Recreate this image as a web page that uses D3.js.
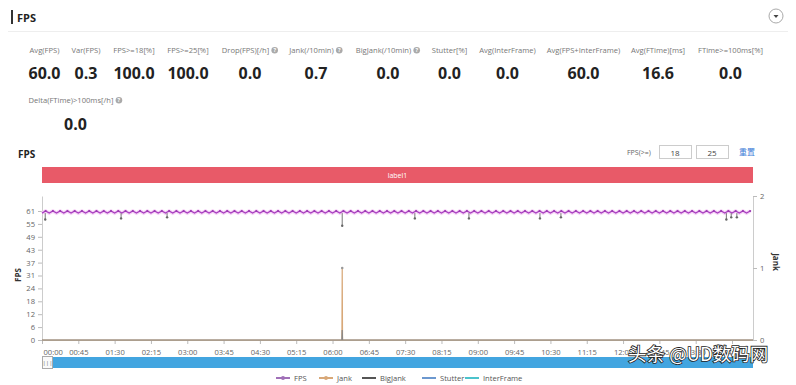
<!DOCTYPE html>
<html>
<head>
<meta charset="utf-8">
<script src="https://cdn.jsdelivr.net/npm/d3@7"></script>
<style>
  body { margin: 0; background: #fff; }
  svg { display: block; font-family: "Open Sans", "Noto Sans CJK SC", sans-serif; }
</style>
</head>
<body>
<script>
"use strict"

// summary metrics
const metricLabels = ['Avg(FPS)', 'Var(FPS)', 'FPS>=18[%]', 'FPS>=25[%]', 'Drop(FPS)[/h]', 'Jank(/10min)',
  'BigJank(/10min)', 'Stutter[%]', 'Avg(InterFrame)', 'Avg(FPS+InterFrame)', 'Avg(FTime)[ms]', 'FTime>=100ms[%]']
const metricValues = ['60.0', '0.3', '100.0', '100.0', '0.0', '0.7', '0.0', '0.0', '0.0', '60.0', '16.6', '0.0']
const metricHelp = [false, false, false, false, true, true, true, false, false, false, false, false]
const extraLabel = 'Delta(FTime)>100ms[/h]'
const extraValue = '0.0'

// FPS samples, one every 4.5 s
const fpsStep = 4.5
const fps = [
  60,61,60,61,60,61,60,61,60,61,60,61,60,61,
  60,61,60,61,60,61,60,61,60,61,60,61,60,61,
  60,61,60,61,60,61,60,61,60,61,60,61,60,61,
  60,61,60,61,60,61,60,61,60,61,60,61,60,61,
  60,61,60,61,60,61,60,61,60,61,60,61,60,61,
  60,61,60,61,60,61,60,61,60,61,60,61,60,61,
  60,61,60,61,60,61,60,61,60,61,60,61,60,61,
  60,61,60,61,60,61,60,61,60,61,60,61,60,61,
  60,61,60,61,60,61,60,61,60,61,60,61,60,61,
  60,61,60,61,60,61,60,61,60,61,60,61,60,61,
  60,61,60,61,60,61,60,61,60,61,60,61,60,61,
  60,61,60,61,60,61,60,61,60,61,60,61,60,61,
  60,61,60,61,60,61,60,61,60,61,60,61,60,61,
  60,61,60,61,60,61,60,61,60,61,60,61,60,61
]

// short frame drops (seconds, lowest FPS)
const dropTimes = [4, 98, 155, 372, 462, 529, 617, 643, 848, 854, 861]
const dropValues = [57, 57.5, 58, 54, 57.5, 57.5, 57.5, 58, 57, 58, 58]

// jank series (seconds, count)
const jankTimes = [0, 371.6, 372, 372.4, 881]
const jankValues = [0, 0, 1, 0, 0]
const bigJankValues = [0, 0, 0.14, 0, 0]

const fpsTicks = d3.range(0, 11).map(i => i * 6.1)
const jankTicks = [0, 1, 2]
const timeTicks = d3.range(0, 856, 45)
const durationSec = 881

const legendNames = ['FPS', 'Jank', 'BigJank', 'Stutter', 'InterFrame']
const legendColors = ['#a070b8', '#d8a878', '#555555', '#6c98cf', '#4cc3cc']

const W = 796, H = 385
const L = 42, R = 753, T = 196, B = 340

const svg = d3.select('body').append('svg')
  .attr('width', W)
  .attr('height', H)

// header
svg.append('rect').attr('x', 11).attr('y', 10).attr('width', 2).attr('height', 14).attr('fill', '#333')
svg.append('text').attr('x', 17).attr('y', 22).attr('font-size', 11).attr('font-weight', 'bold')
  .attr('fill', '#222').text('FPS')
svg.append('line').attr('x1', 8).attr('x2', 788).attr('y1', 31.5).attr('y2', 31.5).attr('stroke', '#eee')
svg.append('circle').attr('cx', 776).attr('cy', 16).attr('r', 7)
  .attr('fill', '#fff').attr('stroke', '#aaa')
svg.append('path').attr('d', 'M773.5,15 L778.5,15 L776,18 Z').attr('fill', '#444')

// metrics
const centers = [44.5, 86, 134, 188, 250, 316, 388, 449.5, 507.5, 583.5, 658, 730.5]

function metric(label, value, cx, help, yl, yv) {
  const g = svg.append('g')
  const t = g.append('text').attr('y', yl).attr('font-size', 7.6).attr('fill', '#777').text(label)
  const tw = t.node().getComputedTextLength()
  const total = tw + (help ? 9 : 0)
  const x0 = cx - total / 2
  t.attr('x', x0)
  if (help) {
    g.append('circle').attr('cx', x0 + tw + 5.5).attr('cy', yl - 2.7).attr('r', 3.3).attr('fill', '#aaa')
    g.append('text').attr('x', x0 + tw + 5.5).attr('y', yl - 0.6).attr('font-size', 5.5)
      .attr('text-anchor', 'middle').attr('fill', '#fff').attr('font-weight', 'bold').text('?')
  }
  g.append('text').attr('x', cx).attr('y', yv).attr('font-size', 16).attr('font-weight', 'bold')
    .attr('text-anchor', 'middle').attr('fill', '#222').text(value)
}

metricLabels.forEach((m, i) => metric(m, metricValues[i], centers[i], metricHelp[i], 53, 79))
metric(extraLabel, extraValue, 75.5, true, 103, 130)

// chart title and threshold inputs
svg.append('text').attr('x', 18).attr('y', 158).attr('font-size', 10).attr('font-weight', 'bold')
  .attr('fill', '#222').text('FPS')
svg.append('text').attr('x', 627).attr('y', 155).attr('font-size', 7).attr('fill', '#666').text('FPS(>=)')
;[[659, 691, '18'], [696, 728, '25']].forEach(([a, b, s]) => {
  svg.append('rect').attr('x', a + 0.5).attr('y', 145.5).attr('width', b - a).attr('height', 13)
    .attr('fill', '#fff').attr('stroke', '#ccc')
  svg.append('text').attr('x', (a + b) / 2).attr('y', 155.5).attr('font-size', 8)
    .attr('text-anchor', 'middle').attr('fill', '#444').text(s)
})
svg.append('text').attr('x', 739).attr('y', 155).attr('font-size', 8).attr('fill', '#3d7bd8').text('重置')

// label band
svg.append('rect').attr('x', L).attr('y', 167).attr('width', R - L).attr('height', 16).attr('fill', '#e85a68')
svg.append('text').attr('x', (L + R) / 2).attr('y', 178).attr('font-size', 7).attr('text-anchor', 'middle')
  .attr('fill', '#fff').text('label1')

// scales
const x = d3.scaleLinear([0, durationSec], [L, R])
const yF = d3.scaleLinear([0, 68.1], [B, T])
const yJ = d3.scaleLinear([0, 2], [B, T])

const fmtTime = s => d3.format('02')(Math.floor(s / 60)) + ':' + d3.format('02')(s % 60)

const xAxis = svg.append('g').attr('transform', `translate(0,${B})`)
  .call(d3.axisBottom(x).tickValues(timeTicks).tickFormat(fmtTime).tickSize(4).tickSizeOuter(0))
xAxis.selectAll('text').attr('dy', '1.1em')
xAxis.selectAll('.tick').filter(d => d === 0).select('text').attr('text-anchor', 'start').attr('x', 1)

const yAxisL = svg.append('g').attr('transform', `translate(${L},0)`)
  .call(d3.axisLeft(yF).tickValues(fpsTicks).tickFormat(d => Math.round(d)).tickSize(4).tickSizeOuter(0))

const yAxisR = svg.append('g').attr('transform', `translate(${R},0)`)
  .call(d3.axisRight(yJ).tickValues(jankTicks).tickFormat(d3.format('d')).tickSize(4).tickSizeOuter(0))

;[xAxis, yAxisL, yAxisR].forEach(a => {
  a.select('.domain').attr('stroke', '#ccc')
  a.selectAll('.tick line').attr('stroke', '#bbb')
  a.selectAll('text').attr('font-size', 7.6).attr('fill', '#666').attr('font-family', 'Open Sans')
})
xAxis.select('.domain').attr('stroke', '#c8c0b0')

svg.append('text').attr('transform', 'translate(21,275) rotate(-90)').attr('font-size', 8)
  .attr('font-weight', 'bold').attr('text-anchor', 'middle').attr('fill', '#333').text('FPS')
svg.append('text').attr('transform', 'translate(773,262) rotate(90)').attr('font-size', 8)
  .attr('font-weight', 'bold').attr('text-anchor', 'middle').attr('fill', '#333').text('Jank')

// jank lines
const jankPts = jankTimes.map((t, i) => [t, jankValues[i], bigJankValues[i]])
svg.append('path').datum(jankPts)
  .attr('d', d3.line().x(d => x(d[0])).y(d => yJ(d[1])))
  .attr('fill', 'none').attr('stroke', legendColors[1]).attr('stroke-width', 1.2)
svg.append('path').datum(jankPts)
  .attr('d', d3.line().x(d => x(d[0])).y(d => yJ(d[2])))
  .attr('fill', 'none').attr('stroke', '#888').attr('stroke-width', 1.2)
svg.append('circle').attr('cx', x(372)).attr('cy', yJ(1)).attr('r', 1.3).attr('fill', '#999')

// FPS line
const fpsPts = fps.map((v, i) => [i * fpsStep, v])
const fpsLine = d3.line().x(d => x(d[0])).y(d => yF(d[1]))
svg.append('path').datum(fpsPts).attr('d', fpsLine)
  .attr('fill', 'none').attr('stroke', '#f4c8f4').attr('stroke-width', 3.5).attr('opacity', 0.8)
svg.append('path').datum(fpsPts).attr('d', fpsLine)
  .attr('fill', 'none').attr('stroke', '#a83fc0').attr('stroke-width', 1.2)
svg.append('g').selectAll('circle')
  .data(fpsPts.filter(d => d[1] > 60))
  .join('circle')
  .attr('cx', d => x(d[0]))
  .attr('cy', d => yF(d[1]))
  .attr('r', 1.1)
  .attr('fill', '#9a3ab0')

// frame drops
const drops = dropTimes.map((t, i) => [t, dropValues[i]])
const dropG = svg.append('g')
dropG.selectAll('line').data(drops).join('line')
  .attr('x1', d => x(d[0])).attr('x2', d => x(d[0]))
  .attr('y1', yF(60)).attr('y2', d => yF(d[1]))
  .attr('stroke', '#777').attr('stroke-width', 1)
dropG.selectAll('circle').data(drops).join('circle')
  .attr('cx', d => x(d[0])).attr('cy', d => yF(d[1]))
  .attr('r', 1.2).attr('fill', '#666')

// data zoom slider
svg.append('rect').attr('x', L).attr('y', 357).attr('width', R - L).attr('height', 11).attr('fill', '#42a5e0')
svg.append('rect').attr('x', L + 0.5).attr('y', 356.5).attr('width', 10).attr('height', 12)
  .attr('fill', '#fafafa').attr('stroke', '#aaa')
svg.append('text').attr('x', L + 5.5).attr('y', 365).attr('font-size', 6).attr('text-anchor', 'middle')
  .attr('fill', '#666').text('|||')

// legend
const legendX = [283, 326, 369, 429, 472]
legendNames.forEach((n, i) => {
  const g = svg.append('g').attr('transform', `translate(${legendX[i]},378)`)
  g.append('line').attr('x1', -7).attr('x2', 7).attr('stroke', legendColors[i]).attr('stroke-width', 2)
  if (i < 2) g.append('circle').attr('r', 2).attr('fill', legendColors[i])
  g.append('text').attr('x', 11).attr('y', 3).attr('font-size', 7.6).attr('fill', '#555').text(n)
})

// watermark
svg.append('text').attr('x', 628).attr('y', 361).attr('font-size', 18.5)
  .attr('font-family', 'Noto Sans CJK SC').attr('fill', '#fff')
  .attr('stroke', '#222').attr('stroke-width', 1.6).attr('paint-order', 'stroke')
  .text('头条 @UD数码网')
</script>
</body>
</html>
